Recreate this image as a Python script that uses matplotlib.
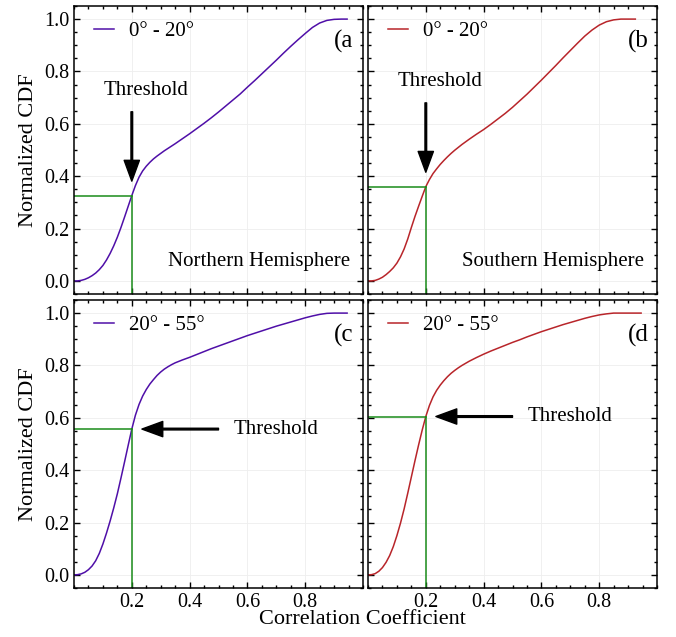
import matplotlib.pyplot as plt
from matplotlib.ticker import MultipleLocator

plt.rcParams['font.family'] = ['Liberation Serif', 'DejaVu Serif']

# correlation coefficient grid used for the CDF curves (finer where the CDF rises fast)
r = [0.0, 0.0125, 0.025, 0.0375, 0.05, 0.0625, 0.075, 0.0875, 0.1, 0.1125,
     0.125, 0.1375, 0.15, 0.1625, 0.175, 0.1875, 0.2, 0.2125, 0.225, 0.2375,
     0.25, 0.2625, 0.275, 0.2875, 0.3, 0.3125, 0.325, 0.3375, 0.35,
     0.375, 0.4, 0.425, 0.45, 0.475, 0.5, 0.525, 0.55, 0.575, 0.6,
     0.625, 0.65, 0.675, 0.7, 0.725, 0.75, 0.775, 0.8, 0.825, 0.85,
     0.875, 0.9, 0.925, 0.945]

cdf_nh_low = [0.000, 0.000, 0.002, 0.006, 0.012, 0.020, 0.030, 0.043, 0.059, 0.080,
              0.105, 0.134, 0.167, 0.204, 0.244, 0.285, 0.326, 0.364, 0.396, 0.420,
              0.438, 0.453, 0.466, 0.477, 0.487, 0.497, 0.506, 0.515, 0.524,
              0.543, 0.562, 0.582, 0.602, 0.623, 0.645, 0.668, 0.691, 0.714, 0.740,
              0.765, 0.791, 0.817, 0.843, 0.870, 0.896, 0.921, 0.945, 0.968, 0.985,
              0.995, 0.999, 1.000, 1.000]

cdf_sh_low = [0.000, 0.000, 0.002, 0.007, 0.014, 0.024, 0.036, 0.050, 0.068, 0.092,
              0.122, 0.160, 0.204, 0.246, 0.285, 0.323, 0.360, 0.387, 0.410, 0.428,
              0.445, 0.460, 0.474, 0.487, 0.499, 0.510, 0.521, 0.531, 0.541,
              0.560, 0.578, 0.598, 0.619, 0.640, 0.663, 0.688, 0.713, 0.740, 0.767,
              0.795, 0.823, 0.852, 0.880, 0.908, 0.935, 0.958, 0.977, 0.990, 0.997,
              1.000, 1.000, 1.000, None]

cdf_nh_mid = [0.000, 0.001, 0.004, 0.010, 0.020, 0.034, 0.054, 0.082, 0.118, 0.160,
              0.206, 0.256, 0.310, 0.370, 0.432, 0.495, 0.557, 0.610, 0.651, 0.683,
              0.708, 0.729, 0.746, 0.762, 0.775, 0.786, 0.795, 0.803, 0.810,
              0.821, 0.831, 0.842, 0.853, 0.864, 0.874, 0.884, 0.894, 0.904, 0.914,
              0.923, 0.932, 0.941, 0.950, 0.958, 0.966, 0.974, 0.982, 0.989, 0.995,
              0.999, 1.000, 1.000, 1.000]

cdf_sh_mid = [0.000, 0.001, 0.005, 0.014, 0.028, 0.048, 0.074, 0.108, 0.150, 0.198,
              0.252, 0.312, 0.374, 0.436, 0.496, 0.553, 0.605, 0.647, 0.680, 0.705,
              0.725, 0.742, 0.757, 0.770, 0.781, 0.791, 0.800, 0.808, 0.816,
              0.830, 0.843, 0.855, 0.866, 0.877, 0.888, 0.898, 0.909, 0.919, 0.929,
              0.938, 0.947, 0.956, 0.964, 0.972, 0.980, 0.987, 0.993, 0.997, 1.000,
              1.000, 1.000, 1.000, 1.000]

threshold = 0.2

purple = '#4f0fa8'
red = '#b8252a'
green = '#1a8c1a'

panels = [
    # (cdf, colour, legend, tag, hemisphere, arrow direction)
    (cdf_nh_low, purple, '0° - 20°', '(a', 'Northern Hemisphere', 'down'),
    (cdf_sh_low, red, '0° - 20°', '(b', 'Southern Hemisphere', 'down'),
    (cdf_nh_mid, purple, '20° - 55°', '(c', None, 'left'),
    (cdf_sh_mid, red, '20° - 55°', '(d', None, 'left'),
]

fig = plt.figure(figsize=(6.76, 6.37), dpi=100)
W, H = 676.0, 637.0
rects = [(74, 6, 363, 294), (368, 6, 657, 294), (74, 300, 363, 588), (368, 300, 657, 588)]

for i, (cdf, col, lab, tag, hemi, direction) in enumerate(panels):
    x0, y0, x1, y1 = rects[i]
    ax = fig.add_axes([x0 / W, 1 - y1 / H, (x1 - x0) / W, (y1 - y0) / H])

    xs = [a for a, b in zip(r, cdf) if b is not None]
    ys = [b for b in cdf if b is not None]
    ax.plot(xs, ys, color=col, lw=1.1, label=lab)

    t = ys[xs.index(threshold)]
    ax.plot([0, threshold], [t, t], color=green, lw=1.1)
    ax.plot([threshold, threshold], [-0.05, t], color=green, lw=1.1)

    arrow = dict(facecolor='black', edgecolor='black', width=1.2,
                 headwidth=11, headlength=15, shrink=0)
    if direction == 'down':
        ax.annotate('', xy=(threshold, t + 0.055), xytext=(threshold, t + 0.32),
                    arrowprops=arrow)
        ax.text(0.25, t + 0.40, 'Threshold', fontsize=15, ha='center', va='center')
    else:
        ax.annotate('', xy=(0.235, t), xytext=(0.5, t), arrowprops=arrow)
        ax.text(0.553, t, 'Threshold', fontsize=15, ha='left', va='center')

    if hemi:
        ax.text(0.955, 0.075, hemi, fontsize=15, ha='right', va='center')

    ax.text(0.898, 0.915, tag, fontsize=18, ha='left', va='center', clip_on=True)

    ax.legend(loc='upper left', bbox_to_anchor=(0.04, 0.976), borderaxespad=0,
              frameon=False, fontsize=15, handlelength=0.95, handletextpad=0.75)

    ax.set_xlim(0, 1.0)
    ax.set_ylim(-0.05, 1.05)
    ax.set_xticks([0.2, 0.4, 0.6, 0.8])
    ax.set_yticks([0.0, 0.2, 0.4, 0.6, 0.8, 1.0])
    ax.xaxis.set_minor_locator(MultipleLocator(0.05))
    ax.yaxis.set_minor_locator(MultipleLocator(0.05))
    ax.tick_params(which='both', direction='in', top=True, right=True, labelsize=14.5)
    ax.tick_params(which='major', length=4, width=1)
    ax.tick_params(which='minor', length=2.5, width=1)
    ax.grid(True, color='#eeeeee', lw=0.6)
    ax.set_axisbelow(True)
    for s in ax.spines.values():
        s.set_linewidth(1.1)

    if i < 2:
        ax.tick_params(labelbottom=False)
    if i % 2 == 1:
        ax.tick_params(labelleft=False)
    else:
        ax.set_ylabel('Normalized CDF', fontsize=16, labelpad=4)

fig.text(362 / W, 1 - 620 / H, 'Correlation Coefficient', fontsize=16,
         ha='center', va='center')

fig.savefig('out.png', dpi=100)
